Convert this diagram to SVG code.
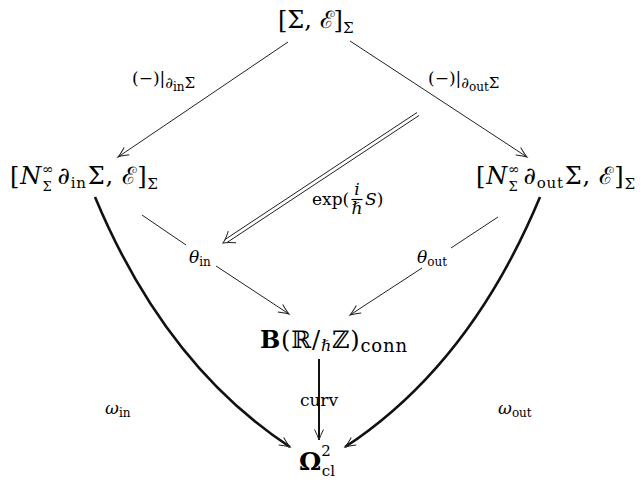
<svg xmlns="http://www.w3.org/2000/svg" width="642" height="485" viewBox="0 0 642 485">
<defs>
<style>
text{font-family:"DejaVu Serif","Liberation Serif",serif;fill:#000}
.n{font-size:24px}
.l{font-size:17px}
.it{font-style:italic}
.ln{fill:none;stroke:#222;stroke-width:1}
.thick{fill:none;stroke:#111;stroke-width:2.6}
.mid{fill:none;stroke:#111;stroke-width:2}
</style>
<marker id="ah" markerUnits="userSpaceOnUse" markerWidth="14" markerHeight="12" refX="12" refY="6" orient="auto" viewBox="0 0 14 12">
<path d="M1.5,1.5 Q8.5,5 12,6 Q8.5,7 1.5,10.5" fill="none" stroke="#222" stroke-width="1"/>
</marker>
</defs>
<g id="connectors">
<line class="ln" x1="288" y1="42" x2="118" y2="157" marker-end="url(#ah)"/>
<line class="ln" x1="350" y1="41" x2="527" y2="157" marker-end="url(#ah)"/>
<line class="ln" x1="419" y1="115.5" x2="227" y2="242.5"/>
<line class="ln" x1="417" y1="112.5" x2="225" y2="239.5"/>
<path class="ln" d="M-11,-7 Q-4,-1.5 0,0 Q-4,1.5 -11,7" transform="translate(223,243) rotate(146.5)"/>
<line class="ln" x1="142" y1="215" x2="186" y2="245"/>
<line class="ln" x1="216" y1="266" x2="289" y2="314" marker-end="url(#ah)"/>
<line class="ln" x1="498" y1="217" x2="451" y2="248"/>
<line class="ln" x1="422" y1="268" x2="350" y2="315" marker-end="url(#ah)"/>
<line class="mid" x1="319" y1="359" x2="319" y2="440" marker-end="url(#ah)"/>
<path class="thick" d="M95,197 Q165,365 290,447" marker-end="url(#ah)"/>
<path class="thick" d="M540,197 Q470,365 345,447" marker-end="url(#ah)"/>
<text class="l" x="132" y="84">(−)|<tspan font-size="15" class="it" dy="4">∂</tspan><tspan font-size="12" dy="3">in</tspan><tspan font-size="15" dy="-3">Σ</tspan></text>
<text class="l" x="428" y="84">(−)|<tspan font-size="15" class="it" dy="4">∂</tspan><tspan font-size="12" dy="3">out</tspan><tspan font-size="15" dy="-3">Σ</tspan></text>
<text class="l" x="312" y="205">exp(</text>
<text class="l it" x="357" y="195" font-size="14" text-anchor="middle">i</text>
<line x1="351.5" y1="199.5" x2="362.5" y2="199.5" stroke="#000" stroke-width="1.2"/>
<text class="l it" x="357" y="214" font-size="14" text-anchor="middle">ℏ</text>
<text class="l" x="365" y="205"><tspan class="it">S</tspan>)</text>
<text class="l" x="189" y="263"><tspan class="it">θ</tspan><tspan font-size="12" dy="3">in</tspan></text>
<text class="l" x="417" y="263"><tspan class="it">θ</tspan><tspan font-size="12" dy="3">out</tspan></text>
<text class="l" x="105" y="414"><tspan class="it">ω</tspan><tspan font-size="12" dy="3">in</tspan></text>
<text class="l" x="498" y="414"><tspan class="it">ω</tspan><tspan font-size="12" dy="3">out</tspan></text>
<text class="l" x="319" y="406" text-anchor="middle">curv</text>
</g>
<g id="node-top">
<text class="n" x="278" y="28">[Σ, ℰ]<tspan font-size="15" dy="5">Σ</tspan></text>
</g>
<g id="node-left">
<text class="n" x="10" y="184" letter-spacing="0.8">[<tspan class="it">N</tspan><tspan font-size="14" dy="-10">∞</tspan><tspan font-size="13" dx="-12" dy="17">Σ</tspan><tspan class="it" dx="5" dy="-7">∂</tspan><tspan font-size="15" dy="4">in</tspan><tspan dx="1" dy="-4">Σ, ℰ]</tspan><tspan font-size="15" dy="5">Σ</tspan></text>
</g>
<g id="node-right">
<text class="n" x="476" y="184" letter-spacing="0.8">[<tspan class="it">N</tspan><tspan font-size="14" dy="-10">∞</tspan><tspan font-size="13" dx="-12" dy="17">Σ</tspan><tspan class="it" dx="5" dy="-7">∂</tspan><tspan font-size="15" dy="4">out</tspan><tspan dx="1" dy="-4">Σ, ℰ]</tspan><tspan font-size="15" dy="5">Σ</tspan></text>
</g>
<g id="node-bottom-mid">
<text class="n" x="260" y="348" letter-spacing="0.8"><tspan font-weight="bold">B</tspan>(ℝ/<tspan font-size="16" class="it" dy="3">ℏ</tspan><tspan dy="-3">ℤ)</tspan><tspan font-size="18" dy="4">conn</tspan></text>
</g>
<g id="node-omega">
<text class="n" x="299" y="470"><tspan font-weight="bold" font-size="25">Ω</tspan><tspan font-size="15" dy="-14">2</tspan><tspan font-size="15" dx="-9" dy="20">cl</tspan></text>
</g>
</svg>
